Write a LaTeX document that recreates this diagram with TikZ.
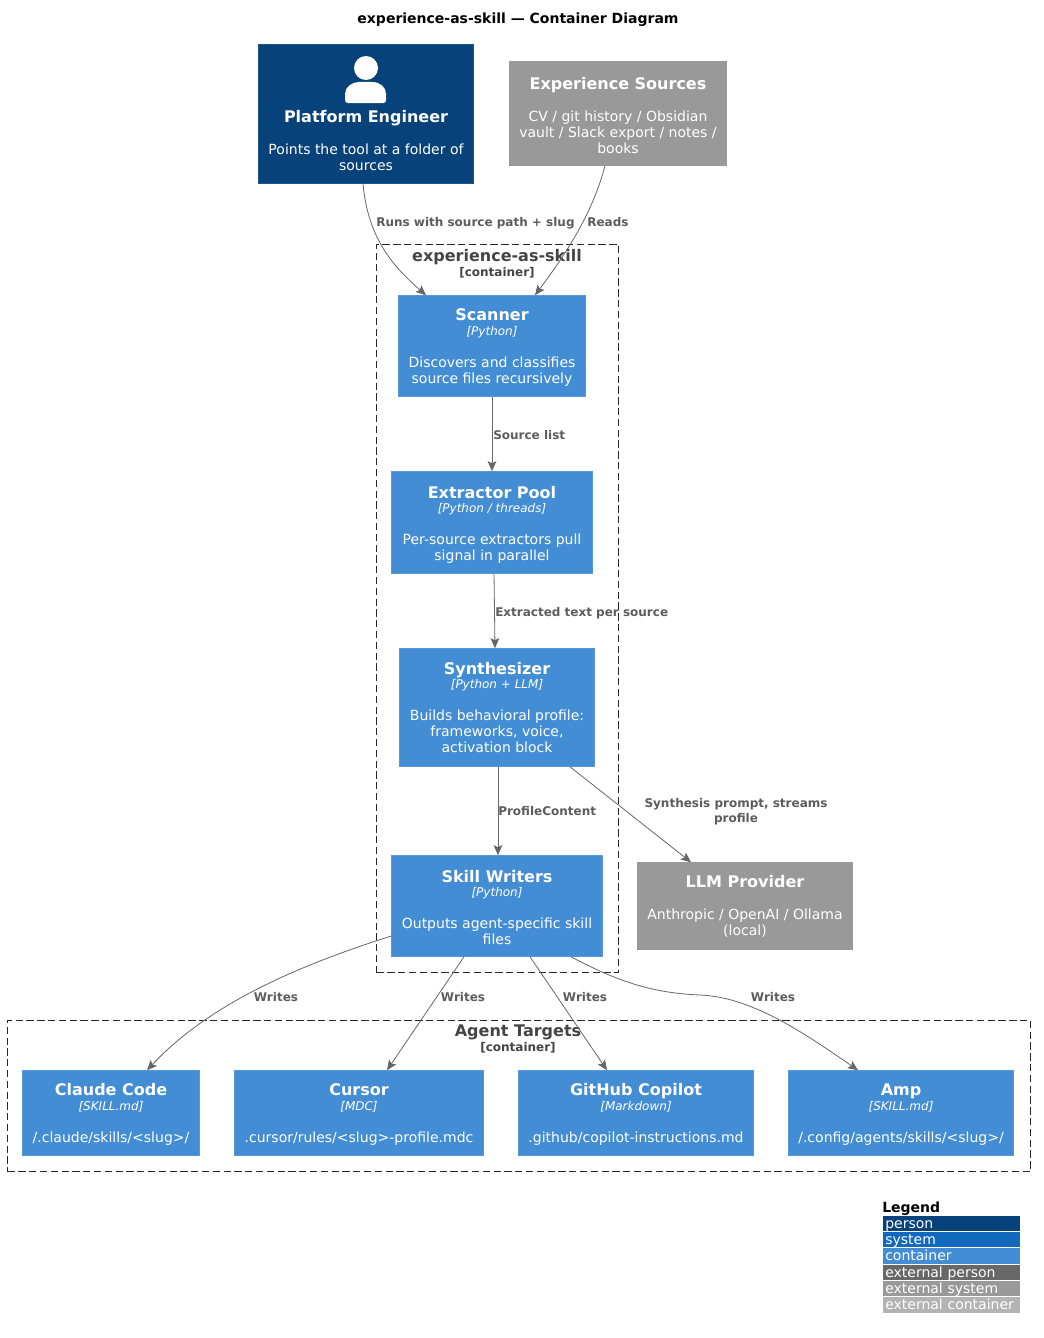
\documentclass[tikz,border=0pt]{standalone}
\usepackage{fontspec}
\setmainfont{DejaVu Sans}
\usetikzlibrary{arrows.meta,calc}

\definecolor{personblue}{HTML}{08427B}
\definecolor{systemblue}{HTML}{1168BD}
\definecolor{containerblue}{HTML}{438DD5}
\definecolor{extperson}{HTML}{686868}
\definecolor{extsystem}{HTML}{999999}
\definecolor{extcontainer}{HTML}{B3B3B3}
\definecolor{edgegrey}{HTML}{666666}
\definecolor{clustergrey}{HTML}{444444}

\newcommand{\boxtitle}[2][11.5pt]{{\fontsize{12}{14}\selectfont\bfseries\rule{0pt}{#1}#2}}
\newcommand{\boxtech}[1]{{\fontsize{9}{11}\selectfont\itshape [#1]}}

\tikzset{
  boxsize/.style 2 args={minimum width=(#1-1)*0.75pt, minimum height=(#2-1)*0.75pt},
  basebox/.style={rectangle, inner sep=0pt, align=center, text=white,
    font=\fontsize{10.5}{12}\selectfont},
  personbox/.style={basebox, fill=personblue, draw=personblue!90!white},
  extbox/.style={basebox, fill=extsystem, draw=extsystem},
  ctnbox/.style={basebox, fill=containerblue, draw=containerblue!90!white},
  cluster/.style={rectangle, draw=black!85, dash pattern=on 5.5pt off 2.6pt, line width=0.42pt, inner sep=0pt},
  clustertitle/.style={align=center, text=clustergrey, inner sep=0pt, font=\fontsize{12}{14}\selectfont\bfseries},
  rel/.style={draw=edgegrey, line width=0.6pt, -{Stealth[length=7.5pt,width=6.5pt,inset=1.5pt]}},
  rellabel/.style={text=edgegrey!90!black, align=center, inner sep=0pt, font=\fontsize{9}{11.5}\selectfont\bfseries},
  legendrow/.style={rectangle, anchor=north west, inner sep=0pt, text=white, minimum width=137*0.75pt,
    text width=133*0.75pt, text height=8.5pt, text depth=2.1pt, align=left, font=\fontsize{10.5}{12}\selectfont},
}

\begin{document}
\begin{tikzpicture}[x=0.75pt, y=-0.75pt]
  \useasboundingbox (0,0) rectangle (1043,1338);

  \node[inner sep=0pt, font=\fontsize{10.5}{12}\selectfont\bfseries] (title) at (518,20) {experience-as-skill — Container Diagram};

  % clusters
  \node[cluster, boxsize={243}{729}] (skillcluster) at (497.5,608.5) {};
  \node[cluster, boxsize={1024}{152}] (agentcluster) at (519,1096) {};
  \node[clustertitle] (skilltitle) at (497,263.5) {experience-as-skill\\[-3pt]{\fontsize{9}{11}\selectfont [container]}};
  \node[clustertitle] (agenttitle) at (518,1039) {Agent Targets\\[-3pt]{\fontsize{9}{11}\selectfont [container]}};

  % people and outside systems
  \node[personbox, boxsize={216}{140}] (engineer) at (366,114) {\rule{0pt}{43pt}\\[-6pt]\boxtitle[9pt]{Platform Engineer}\\[12pt]Points the tool at a folder of\\sources};
  \fill[white] (366,68) circle (12);
  \fill[white] (348,103) .. controls (346,103) and (345,102) .. (345,100) -- (345,94)
    .. controls (345,87) and (352,82) .. (359,82) -- (372,82)
    .. controls (380,82) and (386,87) .. (386,94) -- (386,100)
    .. controls (386,102) and (385,103) .. (383,103) -- cycle;
  \node[extbox, boxsize={218}{105}] (sources) at (618,113.5) {\boxtitle{Experience Sources}\\[12pt]CV / git history / Obsidian\\vault / Slack export / notes /\\books};
  \node[extbox, boxsize={216}{88}] (llm) at (745,906) {\boxtitle[9pt]{LLM Provider}\\[12pt]Anthropic / OpenAI / Ollama\\(local)};

  % pipeline
  \node[ctnbox, boxsize={188}{102}] (scanner) at (492,346) {\boxtitle{Scanner}\\[-1pt]\boxtech{Python}\\[12pt]Discovers and classifies\\source files recursively};
  \node[ctnbox, boxsize={202}{103}] (extractor) at (492,522.5) {\boxtitle[12.5pt]{Extractor Pool}\\[-1pt]\boxtech{Python / threads}\\[12pt]Per-source extractors pull\\signal in parallel};
  \node[ctnbox, boxsize={196}{119}] (synth) at (497,707.5) {\boxtitle[9pt]{Synthesizer}\\[-1pt]\boxtech{Python + LLM}\\[12pt]Builds behavioral profile:\\frameworks, voice,\\activation block};
  \node[ctnbox, boxsize={212}{102}] (writers) at (497,906) {\boxtitle{Skill Writers}\\[-1pt]\boxtech{Python}\\[12pt]Outputs agent-specific skill\\files};

  % targets
  \node[ctnbox, boxsize={178}{86}] (claude) at (111,1113) {\boxtitle{Claude Code}\\[-1pt]\boxtech{SKILL.md}\\[12pt]/.claude/skills/<slug>/};
  \node[ctnbox, boxsize={250}{86}] (cursor) at (359,1113) {\boxtitle{Cursor}\\[-1pt]\boxtech{MDC}\\[12pt].cursor/rules/<slug>-profile.mdc};
  \node[ctnbox, boxsize={236}{86}] (copilot) at (636,1113) {\boxtitle{GitHub Copilot}\\[-1pt]\boxtech{Markdown}\\[12pt].github/copilot-instructions.md};
  \node[ctnbox, boxsize={226}{86}] (amp) at (901,1113) {\boxtitle{Amp}\\[-1pt]\boxtech{SKILL.md}\\[12pt]/.config/agents/skills/<slug>/};

  % connectors
  \draw[rel] ([shift={(-3,0)}]engineer.south) .. controls (368,240) and (395,268) .. ([shift={(-66,0)}]scanner.north);
  \draw[rel] ([shift={(-13,0)}]sources.south) .. controls (592,215) and (565,255) .. ([shift={(43,0)}]scanner.north);
  \draw[rel] (scanner.south) -- (extractor.north);
  \draw[rel] ([shift={(2,0)}]extractor.south) -- ([shift={(-2,0)}]synth.north);
  \draw[rel] ([shift={(1,0)}]synth.south) -- ([shift={(1,0)}]writers.north);
  \draw[rel] ([shift={(73,0)}]synth.south) -- ([shift={(-54,0)}]llm.north);
  \draw[rel] ([shift={(0,30)}]writers.west) .. controls (300,965) and (210,1003) .. ([shift={(36,0)}]claude.north);
  \draw[rel] ([shift={(-33,0)}]writers.south) -- ([shift={(28,0)}]cursor.north);
  \draw[rel] ([shift={(33,0)}]writers.south) -- ([shift={(-29,0)}]copilot.north);
  \draw[rel] ([shift={(74,0)}]writers.south) .. controls (615,980) and (650,993) .. (700,995) .. controls (750,997) and (800,1030) .. ([shift={(-43,0)}]amp.north);

  % connector labels
  \node[rellabel, anchor=west] (lblruns) at (376,223) {Runs with source path + slug};
  \node[rellabel, anchor=west] (lblreads) at (587,222) {Reads};
  \node[rellabel, anchor=west] (lblsource) at (493,435) {Source list};
  \node[rellabel, anchor=west] (lblextract) at (495,613) {Extracted text per source};
  \node[rellabel, anchor=west] (lblprofile) at (498,811) {ProfileContent};
  \node[rellabel] (lblprompt) at (736,812) {Synthesis prompt, streams\\profile};
  \node[rellabel] (lblclaude) at (276,997) {Writes};
  \node[rellabel] (lblcursor) at (463,997) {Writes};
  \node[rellabel] (lblcopilot) at (585,997) {Writes};
  \node[rellabel] (lblamp) at (773,997) {Writes};

  % legend
  \node[inner sep=0pt, anchor=west, font=\fontsize{10.5}{12}\selectfont\bfseries] (legend) at (882,1209) {Legend};
  \foreach \rowname/\rowcolor/\rowy/\rowh/\rowtext in {
    lperson/personblue/1216/15/person,
    lsystem/systemblue/1232/15/system,
    lcontainer/containerblue/1248/16/container,
    lextperson/extperson/1265/15/external person,
    lextsystem/extsystem/1281/15/external system,
    lextcontainer/extcontainer/1297/16/external container} {
    \node[legendrow, fill=\rowcolor, minimum height=\rowh*0.75pt] (\rowname) at (883,\rowy) {\rowtext};
  }
\end{tikzpicture}
\end{document}
